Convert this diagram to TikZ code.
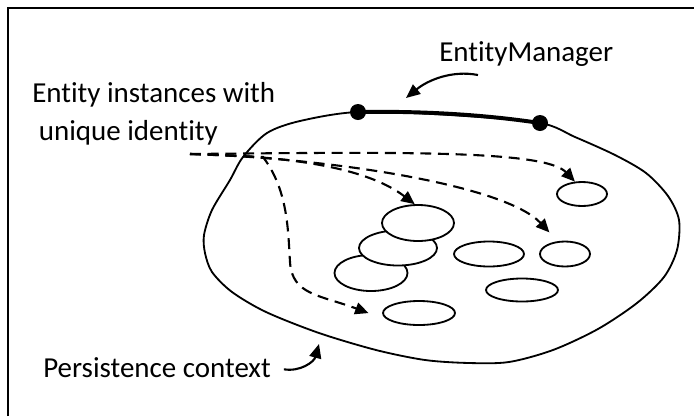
\documentclass[tikz,border=0pt]{standalone}
\usepackage{fontspec}
\setmainfont{Carlito}[Ligatures=NoCommon]
\usetikzlibrary{arrows.meta,shapes.geometric}

\begin{document}
\begin{tikzpicture}[x=0.25mm, y=-0.25mm,
  frameline/.style={draw=black, line width=1.4pt},
  rim/.style={draw=black, line width=1.3pt},
  inst/.style 2 args={ellipse, draw=black, line width=1.3pt, fill=white,
    inner sep=0pt, minimum width=#1*0.25mm, minimum height=#2*0.25mm},
  dot/.style={circle, fill=black, inner sep=0pt, minimum size=4mm},
  mgr/.style={draw=black, line width=2.8pt},
  link/.style={-{Triangle[length=9.5pt, width=8.5pt]}, line width=1.5pt,
    dash pattern=on 7.8pt off 4.8pt},
  pointer/.style={-{Triangle[length=10pt, width=8.5pt]}, line width=1.5pt},
  txt/.style={font=\fontsize{20.6}{27}\selectfont, inner sep=0pt}
]
\useasboundingbox (0,0) rectangle (694,416);
\draw[frameline] (8,416) -- (8,8) -- (694,8);

% persistence context
\draw[rim] plot[smooth cycle] coordinates {(358,112) (300,121) (267,133)
  (243,157) (230,180) (212,210) (204,235) (205,253) (212,272) (232,292)
  (266,312) (319,333) (376,350) (425,360) (469,363) (509,362) (553,350)
  (598,329) (637,303) (664,277) (677,250) (679,220) (668,196) (646,173)
  (615,155) (575,137) (540,123) (450,115)};

% entity instances
\node[inst={73}{36}] (o1) at (371,273) {};
\node[inst={78}{35}] (o2) at (398,248) {};
\node[inst={72}{36}] (o3) at (418,223) {};
\node[inst={70}{25}] (o4) at (489,254) {};
\node[inst={50}{25}] (o5) at (565,254) {};
\node[inst={72}{23}] (o6) at (522,290) {};
\node[inst={72}{24}] (o7) at (419,313) {};
\node[inst={50}{24}] (o8) at (582,194) {};

% entity manager
\node[dot] (m1) at (358,112) {};
\node[dot] (m2) at (540,123) {};
\draw[mgr] (m1.center) .. controls (418,111) and (480,114) .. (m2.center);

\node[txt, anchor=base west] (em) at (439,61.5) {EntityManager};
\node[txt, anchor=base west, align=left] (ent) at (32,140)
  {Entity instances with\\\hspace*{0.23em}unique identity};
\node[txt, anchor=base west] (pc) at (43,377) {Persistence context};

\coordinate (src) at (190,154);
\draw[link, shorten >=6.5mm] (src) -- (263,157)
  .. controls (288,190) and (288,230) .. (290,262)
  .. controls (292,295) and (320,295) .. (o7.south west);
\draw[link] (src) .. controls (300,156) and (370,170) .. (o3.100);
\draw[link, shorten >=3mm] (src) .. controls (330,158) and (505,185) .. (o5.120);
\draw[link] (src) .. controls (400,152) and (545,150) .. (o8.120);

\coordinate (emtail) at (478,75);
\coordinate (emtip) at (406,98);
\draw[pointer] (emtail) .. controls (452,70) and (428,80) .. (emtip);
\coordinate (pctip) at (319,344);
\draw[pointer, shorten <=3.25mm] (pc.east) .. controls (300,372) and (314,362) .. (pctip);
\end{tikzpicture}
\end{document}
